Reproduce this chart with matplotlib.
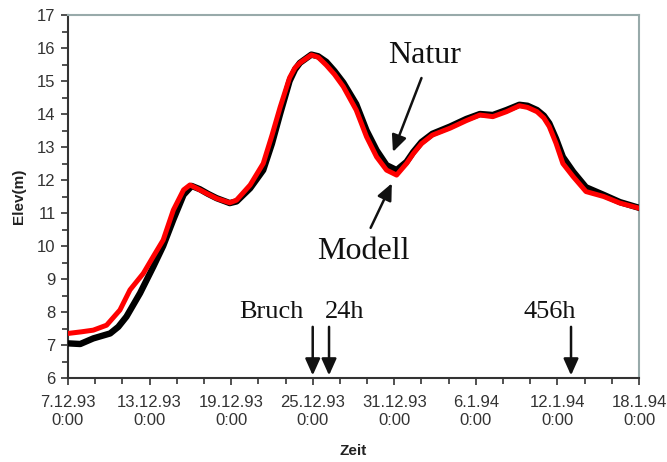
import matplotlib
matplotlib.use("Agg")
import matplotlib.pyplot as plt
from matplotlib.ticker import MultipleLocator

# ---- data (days after 7.12.93 0:00) ----
natur_days = [0, 0.9, 1.86, 3.1, 3.7, 4.3, 5.3, 6.27, 7.0, 7.75, 8.5, 9.1, 9.7, 10.3, 10.93,
              11.9, 12.4, 13.4, 14.36, 15.0, 15.6, 16.3, 16.7, 17.06, 17.9, 18.4, 19.0,
              19.6, 20.25, 21.2, 21.96, 22.7, 23.43, 24.17, 24.9, 25.4, 26.0, 26.8, 28.1,
              29.3, 30.3, 31.25, 32.25, 33.2, 33.8, 34.5, 35.0, 35.4, 35.9, 36.4, 37.16,
              38.1, 39.4, 40.6, 42.06]
natur_elev = [7.05, 7.03, 7.20, 7.35, 7.55, 7.86, 8.57, 9.37, 10.00, 10.80, 11.55, 11.82,
              11.72, 11.58, 11.45, 11.30, 11.35, 11.75, 12.30, 13.10, 14.00, 15.00, 15.35,
              15.55, 15.80, 15.75, 15.58, 15.30, 14.95, 14.30, 13.50, 12.90, 12.45, 12.30,
              12.55, 12.85, 13.15, 13.40, 13.62, 13.85, 14.00, 13.97, 14.12, 14.28, 14.25,
              14.12, 13.95, 13.72, 13.25, 12.70, 12.25, 11.78, 11.55, 11.33, 11.15]

modell_days = [0, 1.0, 1.86, 2.84, 3.82, 4.56, 5.54, 6.3, 7.0, 7.75, 8.5, 8.97, 9.7, 10.3,
               10.93, 11.9, 12.4, 13.4, 14.36, 15.0, 15.6, 16.3, 16.7, 17.06, 17.9, 18.4,
               19.0, 19.6, 20.25, 21.2, 21.96, 22.7, 23.43, 24.17, 24.9, 25.4, 26.0, 26.8,
               28.1, 29.3, 30.3, 31.25, 32.25, 33.2, 33.8, 34.5, 35.0, 35.4, 35.9, 36.4,
               37.16, 38.1, 39.4, 40.6, 42.06]
modell_elev = [7.35, 7.40, 7.45, 7.60, 8.06, 8.67, 9.17, 9.70, 10.18, 11.09, 11.70, 11.85,
               11.70, 11.57, 11.44, 11.31, 11.39, 11.85, 12.50, 13.35, 14.20, 15.10, 15.40,
               15.55, 15.79, 15.72, 15.48, 15.20, 14.83, 14.12, 13.31, 12.70, 12.30, 12.15,
               12.50, 12.80, 13.10, 13.36, 13.57, 13.80, 13.97, 13.92, 14.07, 14.25, 14.20,
               14.07, 13.88, 13.62, 13.11, 12.50, 12.10, 11.65, 11.50, 11.30, 11.14]

tick_days = [0, 6, 12, 18, 24, 30, 36, 42]
tick_labels = ["7.12.93\n0:00", "13.12.93\n0:00", "19.12.93\n0:00", "25.12.93\n0:00",
               "31.12.93\n0:00", "6.1.94\n0:00", "12.1.94\n0:00", "18.1.94\n0:00"]

fig = plt.figure(figsize=(6.67, 4.62), dpi=100)
ax = fig.add_axes([68/667, 84/462, 571/667, 363/462])

ax.plot(natur_days, natur_elev, color="black", lw=4.6, solid_capstyle="round",
        solid_joinstyle="round", zorder=3)
ax.plot(modell_days, modell_elev, color="#ff0000", lw=3.6, solid_capstyle="round",
        solid_joinstyle="round", zorder=4)

ax.set_xlim(0, 42)
ax.set_ylim(6, 17)
ax.set_xticks(tick_days)
ax.set_xticklabels(tick_labels, fontsize=12, color="#333333", family="Liberation Sans",
                   linespacing=1.25)
ax.xaxis.set_minor_locator(MultipleLocator(2))
ax.yaxis.set_major_locator(MultipleLocator(1))
ax.yaxis.set_minor_locator(MultipleLocator(0.5))
for lab in ax.get_yticklabels():
    lab.set_fontsize(12)
    lab.set_color("#333333")
    lab.set_family("Liberation Sans")
ax.tick_params(which="both", direction="out", length=5, width=1.2, color="#333333")
ax.tick_params(which="minor", length=4)
ax.tick_params(axis="x", pad=7)
ax.tick_params(axis="y", pad=4)

for s in ["left", "bottom"]:
    ax.spines[s].set_color("#333333")
    ax.spines[s].set_linewidth(1.5)
for s in ["top", "right"]:
    ax.spines[s].set_color("#98aaaa")
    ax.spines[s].set_linewidth(1.5)

ax.set_xlabel("Zeit", fontsize=11, fontweight="bold", family="Liberation Sans",
              color="#222222", labelpad=12)
ax.set_ylabel("Elev(m)", fontsize=11, fontweight="bold", family="Liberation Sans",
              color="#222222", labelpad=8)

serif = "Liberation Serif"
arrow_kw = dict(arrowstyle="-|>,head_length=1.0,head_width=0.45", color="#111111", lw=1.8,
                shrinkA=0, shrinkB=0)

ax.text(26.25, 15.55, "Natur", fontsize=23, family=serif, ha="center", va="baseline",
        color="#111111")
ax.annotate("", xy=(23.9, 12.85), xytext=(26.0, 15.09), arrowprops=arrow_kw)
ax.text(21.76, 9.6, "Modell", fontsize=23, family=serif, ha="center", va="baseline",
        color="#111111")
ax.annotate("", xy=(23.82, 11.9), xytext=(22.26, 10.55), arrowprops=arrow_kw)

ax.text(17.35, 7.82, "Bruch", fontsize=19, family=serif, ha="right", va="baseline",
        color="#111111")
ax.text(18.9, 7.82, "24h", fontsize=19, family=serif, ha="left", va="baseline",
        color="#111111")
ax.text(35.4, 7.82, "456h", fontsize=19, family=serif, ha="center", va="baseline",
        color="#111111")
for xd in [18.0, 19.2, 37.0]:
    ax.annotate("", xy=(xd, 6.08), xytext=(xd, 7.55), arrowprops=arrow_kw)

fig.savefig("out.png", dpi=100)
